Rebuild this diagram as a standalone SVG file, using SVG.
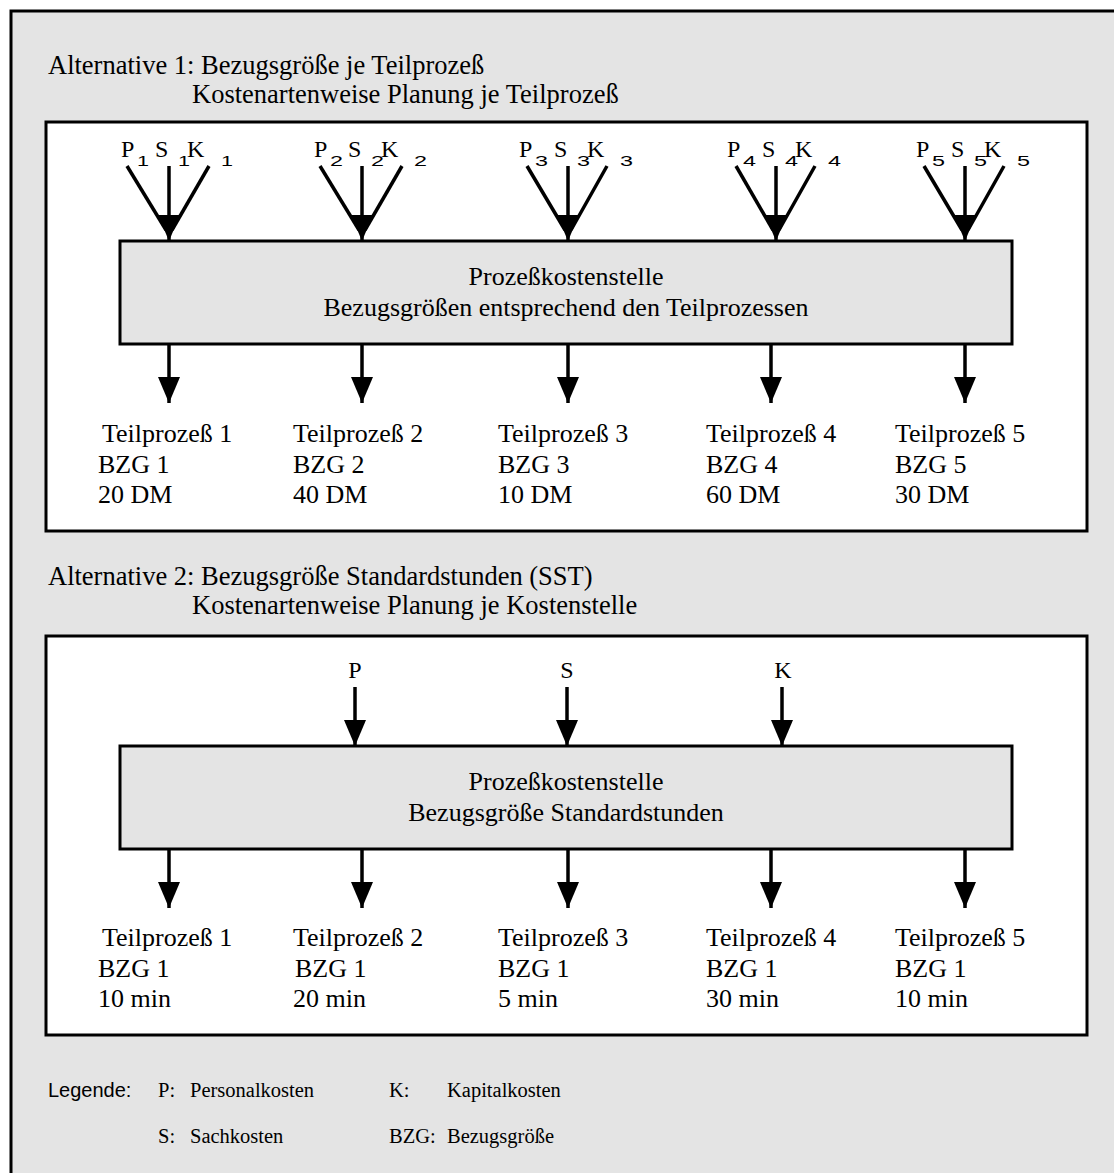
<svg xmlns="http://www.w3.org/2000/svg" width="1114" height="1173" viewBox="0 0 1114 1173">
<style>
.t{font-family:"Liberation Serif","Times New Roman",serif;font-size:26px;fill:#000}
.tt{font-family:"Liberation Serif","Times New Roman",serif;font-size:26.5px;fill:#000}
.lbl{font-family:"Liberation Serif","Times New Roman",serif;font-size:24px;fill:#000}
.sub{font-family:"Liberation Sans",Arial,sans-serif;font-size:14px;fill:#000}
.lg{font-family:"Liberation Serif","Times New Roman",serif;font-size:20.5px;fill:#000}
.lgs{font-family:"Liberation Sans",Arial,sans-serif;font-size:20px;fill:#000}
.box{fill:#fff;stroke:#000;stroke-width:3}
.pbox{fill:#e4e4e4;stroke:#000;stroke-width:3}
.ln{stroke:#000;stroke-width:3.5;fill:none}
.mid{text-anchor:middle}
</style>
<defs>
<marker id="ah" viewBox="0 0 26 22" refX="26" refY="11" markerWidth="26" markerHeight="22" markerUnits="userSpaceOnUse" orient="auto">
<path d="M0,0 L26,11 L0,22 Z" fill="#000"/>
</marker>
</defs>
<rect x="11" y="11" width="1112" height="1172" fill="#e4e4e4" stroke="#000" stroke-width="3"/>

<g id="title1">
<text class="tt" x="48" y="74">Alternative 1: Bezugsgröße je Teilprozeß</text>
<text class="tt" x="192" y="103">Kostenartenweise Planung je Teilprozeß</text>
</g>
<g id="frame1"><rect class="box" x="46" y="122" width="1041" height="409"/></g>

<g id="proc1">
<rect class="pbox" x="120" y="241" width="892" height="103"/>
<text class="t mid" x="566" y="285">Prozeßkostenstelle</text>
<text class="t mid" x="566" y="316">Bezugsgrößen entsprechend den Teilprozessen</text>
</g>

<g id="inputs1-labels">
<g id="in1"><text class="lbl" x="121" y="157">P</text><text class="sub" x="137" y="166" textLength="12" lengthAdjust="spacingAndGlyphs">1</text><text class="lbl" x="155" y="157">S</text><text class="sub" x="178" y="166" textLength="12" lengthAdjust="spacingAndGlyphs">1</text><text class="lbl" x="187" y="157">K</text><text class="sub" x="221" y="166" textLength="12" lengthAdjust="spacingAndGlyphs">1</text></g>
<g id="in2"><text class="lbl" x="314" y="157">P</text><text class="sub" x="330" y="166" textLength="13" lengthAdjust="spacingAndGlyphs">2</text><text class="lbl" x="348" y="157">S</text><text class="sub" x="371" y="166" textLength="13" lengthAdjust="spacingAndGlyphs">2</text><text class="lbl" x="381" y="157">K</text><text class="sub" x="414" y="166" textLength="13" lengthAdjust="spacingAndGlyphs">2</text></g>
<g id="in3"><text class="lbl" x="519" y="157">P</text><text class="sub" x="535" y="166" textLength="13" lengthAdjust="spacingAndGlyphs">3</text><text class="lbl" x="554" y="157">S</text><text class="sub" x="577" y="166" textLength="13" lengthAdjust="spacingAndGlyphs">3</text><text class="lbl" x="587" y="157">K</text><text class="sub" x="620" y="166" textLength="13" lengthAdjust="spacingAndGlyphs">3</text></g>
<g id="in4"><text class="lbl" x="727" y="157">P</text><text class="sub" x="743" y="166" textLength="13" lengthAdjust="spacingAndGlyphs">4</text><text class="lbl" x="762" y="157">S</text><text class="sub" x="785" y="166" textLength="13" lengthAdjust="spacingAndGlyphs">4</text><text class="lbl" x="795" y="157">K</text><text class="sub" x="828" y="166" textLength="13" lengthAdjust="spacingAndGlyphs">4</text></g>
<g id="in5"><text class="lbl" x="916" y="157">P</text><text class="sub" x="932" y="166" textLength="13" lengthAdjust="spacingAndGlyphs">5</text><text class="lbl" x="951" y="157">S</text><text class="sub" x="974" y="166" textLength="13" lengthAdjust="spacingAndGlyphs">5</text><text class="lbl" x="984" y="157">K</text><text class="sub" x="1017" y="166" textLength="13" lengthAdjust="spacingAndGlyphs">5</text></g>
</g>

<g id="out1">
<g id="o1-1"><text class="t" x="102" y="442">Teilprozeß 1</text><text class="t" x="98" y="473">BZG 1</text><text class="t" x="98" y="503">20 DM</text></g>
<g id="o1-2"><text class="t" x="293" y="442">Teilprozeß 2</text><text class="t" x="293" y="473">BZG 2</text><text class="t" x="293" y="503">40 DM</text></g>
<g id="o1-3"><text class="t" x="498" y="442">Teilprozeß 3</text><text class="t" x="498" y="473">BZG 3</text><text class="t" x="498" y="503">10 DM</text></g>
<g id="o1-4"><text class="t" x="706" y="442">Teilprozeß 4</text><text class="t" x="706" y="473">BZG 4</text><text class="t" x="706" y="503">60 DM</text></g>
<g id="o1-5"><text class="t" x="895" y="442">Teilprozeß 5</text><text class="t" x="895" y="473">BZG 5</text><text class="t" x="895" y="503">30 DM</text></g>
</g>

<g id="title2">
<text class="tt" x="48" y="585">Alternative 2: Bezugsgröße Standardstunden (SST)</text>
<text class="tt" x="192" y="614">Kostenartenweise Planung je Kostenstelle</text>
</g>
<g id="frame2"><rect class="box" x="46" y="636" width="1041" height="399"/></g>

<g id="proc2">
<rect class="pbox" x="120" y="746" width="892" height="103"/>
<text class="t mid" x="566" y="790">Prozeßkostenstelle</text>
<text class="t mid" x="566" y="821">Bezugsgröße Standardstunden</text>
</g>

<g id="inputs2-labels">
<text class="lbl mid" x="355" y="678">P</text>
<text class="lbl mid" x="567" y="678">S</text>
<text class="lbl mid" x="783" y="678">K</text>
</g>

<g id="out2">
<g id="o2-1"><text class="t" x="102" y="946">Teilprozeß 1</text><text class="t" x="98" y="977">BZG 1</text><text class="t" x="98" y="1007">10 min</text></g>
<g id="o2-2"><text class="t" x="293" y="946">Teilprozeß 2</text><text class="t" x="295" y="977">BZG 1</text><text class="t" x="293" y="1007">20 min</text></g>
<g id="o2-3"><text class="t" x="498" y="946">Teilprozeß 3</text><text class="t" x="498" y="977">BZG 1</text><text class="t" x="498" y="1007">5 min</text></g>
<g id="o2-4"><text class="t" x="706" y="946">Teilprozeß 4</text><text class="t" x="706" y="977">BZG 1</text><text class="t" x="706" y="1007">30 min</text></g>
<g id="o2-5"><text class="t" x="895" y="946">Teilprozeß 5</text><text class="t" x="895" y="977">BZG 1</text><text class="t" x="895" y="1007">10 min</text></g>
</g>

<g id="connectors">
<line class="ln" x1="127" y1="166" x2="166" y2="230"/><line class="ln" x1="169" y1="166" x2="169" y2="241" marker-end="url(#ah)"/><line class="ln" x1="209" y1="166" x2="172" y2="230"/>
<line class="ln" x1="320" y1="166" x2="359" y2="230"/><line class="ln" x1="362" y1="166" x2="362" y2="241" marker-end="url(#ah)"/><line class="ln" x1="402" y1="166" x2="365" y2="230"/>
<line class="ln" x1="527" y1="166" x2="565" y2="230"/><line class="ln" x1="568" y1="166" x2="568" y2="241" marker-end="url(#ah)"/><line class="ln" x1="607" y1="166" x2="571" y2="230"/>
<line class="ln" x1="736" y1="166" x2="773" y2="230"/><line class="ln" x1="776" y1="166" x2="776" y2="241" marker-end="url(#ah)"/><line class="ln" x1="815" y1="166" x2="779" y2="230"/>
<line class="ln" x1="924" y1="166" x2="962" y2="230"/><line class="ln" x1="965" y1="166" x2="965" y2="241" marker-end="url(#ah)"/><line class="ln" x1="1004" y1="166" x2="968" y2="230"/>
<line class="ln" x1="169" y1="344" x2="169" y2="403" marker-end="url(#ah)"/>
<line class="ln" x1="362" y1="344" x2="362" y2="403" marker-end="url(#ah)"/>
<line class="ln" x1="568" y1="344" x2="568" y2="403" marker-end="url(#ah)"/>
<line class="ln" x1="771" y1="344" x2="771" y2="403" marker-end="url(#ah)"/>
<line class="ln" x1="965" y1="344" x2="965" y2="403" marker-end="url(#ah)"/>
<line class="ln" x1="355" y1="687" x2="355" y2="746" marker-end="url(#ah)"/>
<line class="ln" x1="567" y1="687" x2="567" y2="746" marker-end="url(#ah)"/>
<line class="ln" x1="782" y1="687" x2="782" y2="746" marker-end="url(#ah)"/>
<line class="ln" x1="169" y1="849" x2="169" y2="908" marker-end="url(#ah)"/>
<line class="ln" x1="362" y1="849" x2="362" y2="908" marker-end="url(#ah)"/>
<line class="ln" x1="568" y1="849" x2="568" y2="908" marker-end="url(#ah)"/>
<line class="ln" x1="771" y1="849" x2="771" y2="908" marker-end="url(#ah)"/>
<line class="ln" x1="965" y1="849" x2="965" y2="908" marker-end="url(#ah)"/>
</g>

<g id="legend">
<text class="lgs" x="48" y="1097">Legende:</text>
<text class="lg" x="158" y="1097">P:</text><text class="lg" x="190" y="1097">Personalkosten</text>
<text class="lg" x="389" y="1097">K:</text><text class="lg" x="447" y="1097">Kapitalkosten</text>
<text class="lg" x="158" y="1143">S:</text><text class="lg" x="190" y="1143">Sachkosten</text>
<text class="lg" x="389" y="1143">BZG:</text><text class="lg" x="447" y="1143">Bezugsgröße</text>
</g>
</svg>
